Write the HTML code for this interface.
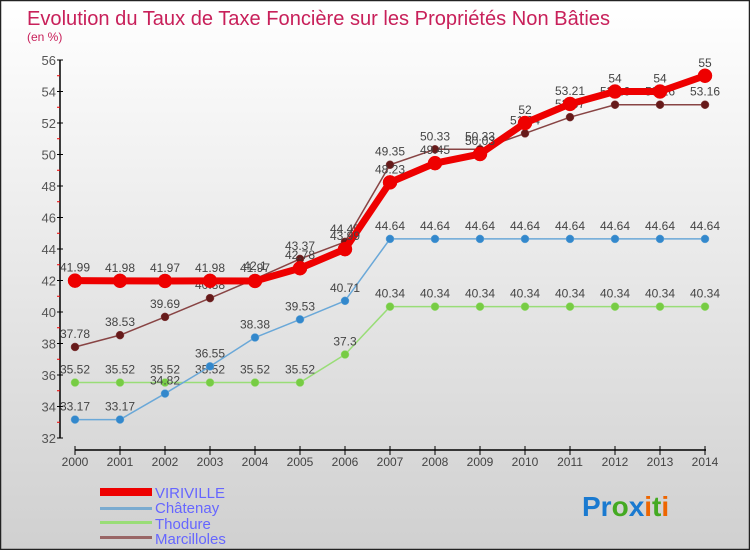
<!DOCTYPE html>
<html><head><meta charset="utf-8">
<style>
html,body{margin:0;padding:0;}
body{width:750px;height:550px;overflow:hidden;font-family:"Liberation Sans",sans-serif;}
svg text{font-family:"Liberation Sans",sans-serif;}
</style></head>
<body>
<svg id="chart" width="750" height="550" viewBox="0 0 750 550" xmlns="http://www.w3.org/2000/svg">
<defs>
<linearGradient id="bg" x1="0" y1="0" x2="0" y2="1">
<stop offset="0" stop-color="#ffffff"/><stop offset="1" stop-color="#d0d0d0"/>
</linearGradient>
</defs>
<rect x="0.5" y="0.5" width="749" height="549" fill="url(#bg)" stroke="#222" stroke-width="1.5"/>
<text x="27" y="25" font-size="20" fill="#c8205a" textLength="583" lengthAdjust="spacingAndGlyphs">Evolution du Taux de Taxe Foncière sur les Propriétés Non Bâties</text>
<text x="27" y="41" font-size="12" fill="#c8205a">(en %)</text>
<g id="axes"></g>
<g id="series"></g>
<g id="legend">
<rect x="100" y="488" width="52" height="8" fill="#ee0000"/>
<text x="155" y="498" font-size="15" fill="#6666ff">VIRIVILLE</text>
<rect x="100" y="507" width="52" height="3" fill="#7aabd0"/>
<text x="155" y="513" font-size="15" fill="#6666ff">Châtenay</text>
<rect x="100" y="521" width="52" height="3" fill="#99dd77"/>
<text x="155" y="529" font-size="15" fill="#6666ff">Thodure</text>
<rect x="100" y="536" width="52" height="3" fill="#996666"/>
<text x="155" y="544" font-size="15" fill="#6666ff">Marcilloles</text>
</g>
<g font-size="28" font-weight="bold">
<text x="582" y="516"><tspan fill="#1a7ad0">Pr</tspan><tspan fill="#44aa22">o</tspan><tspan fill="#1a7ad0">x</tspan><tspan fill="#ee6600">i</tspan><tspan fill="#44aa22">t</tspan><tspan fill="#ee6600">i</tspan></text>
</g>
</svg>
<script>
const years=[2000,2001,2002,2003,2004,2005,2006,2007,2008,2009,2010,2011,2012,2013,2014];
const viriville=[41.99,41.98,41.97,41.98,41.97,42.78,43.99,48.23,49.45,50.03,52,53.21,54,54,55];
const chatenay=[33.17,33.17,34.82,36.55,38.38,39.53,40.71,44.64,44.64,44.64,44.64,44.64,44.64,44.64,44.64];
const thodure=[35.52,35.52,35.52,35.52,35.52,35.52,37.3,40.34,40.34,40.34,40.34,40.34,40.34,40.34,40.34];
const marcilloles=[37.78,38.53,39.69,40.88,42.1,43.37,44.45,49.35,50.33,50.33,51.34,52.37,53.16,53.16,53.16];
const yTicks=[32,34,36,38,40,42,44,46,48,50,52,54,56];
const NS="http://www.w3.org/2000/svg";
const x=i=>75+i*45;
const y=v=>438-(v-32)*15.75;
function mk(tag,attrs,parent){const e=document.createElementNS(NS,tag);for(const k in attrs)e.setAttribute(k,attrs[k]);parent.appendChild(e);return e;}
const axes=document.getElementById('axes');
let yl=mk('line',{x1:60,y1:60,x2:60,y2:438,stroke:'#000','stroke-width':1.5},axes);


yTicks.forEach(t=>{
  let l=mk('line',{x1:57,y1:y(t),x2:63,y2:y(t),stroke:'#000'},axes);
  
  
  let tx=mk('text',{x:56,y:y(t)+5,'font-size':13,fill:'#555','text-anchor':'end'},axes);
  tx.textContent=t;
  
  
  if(t<56){let m=mk('line',{x1:57,y1:y(t+1),x2:60,y2:y(t+1),stroke:'#ee0000'},axes);
  
  }
});
let xl=mk('line',{x1:75,y1:450,x2:706,y2:450,stroke:'#000','stroke-width':1.5},axes);


years.forEach((yr,i)=>{
  let l=mk('line',{x1:x(i),y1:446,x2:x(i),y2:455,stroke:'#000'},axes);
  
  
  let tx=mk('text',{x:x(i),y:466,'font-size':12,fill:'#444','text-anchor':'middle'},axes);
  tx.textContent=yr;
  
  
});
const sg=document.getElementById('series');
function draw(name,vals,color,dot,w,r){
  const g=mk('g',{},sg);
  
  
  const p=mk('polyline',{points:vals.map((v,i)=>x(i)+','+y(v)).join(' '),fill:'none',stroke:color,'stroke-width':w,'stroke-linejoin':'round'},g);
  
  
  vals.forEach((v,i)=>{
    const c=mk('circle',{cx:x(i),cy:y(v),r:r,fill:dot,stroke:color,'stroke-width':0.5},g);
    
    
    const t=mk('text',{x:x(i),y:y(v)-9,'font-size':12,fill:'#444','text-anchor':'middle'},g);
    t.textContent=v;
    
    
  });
}
draw('thodure',thodure,'#99dd77','#77cc44',1.5,4);
draw('chatenay',chatenay,'#6aa8d8','#3388cc',1.5,4);
draw('marcilloles',marcilloles,'#884444','#661a1a',1.5,4);
draw('viriville',viriville,'#ee0000','#ee0000',7,7);
</script>
</body></html>
